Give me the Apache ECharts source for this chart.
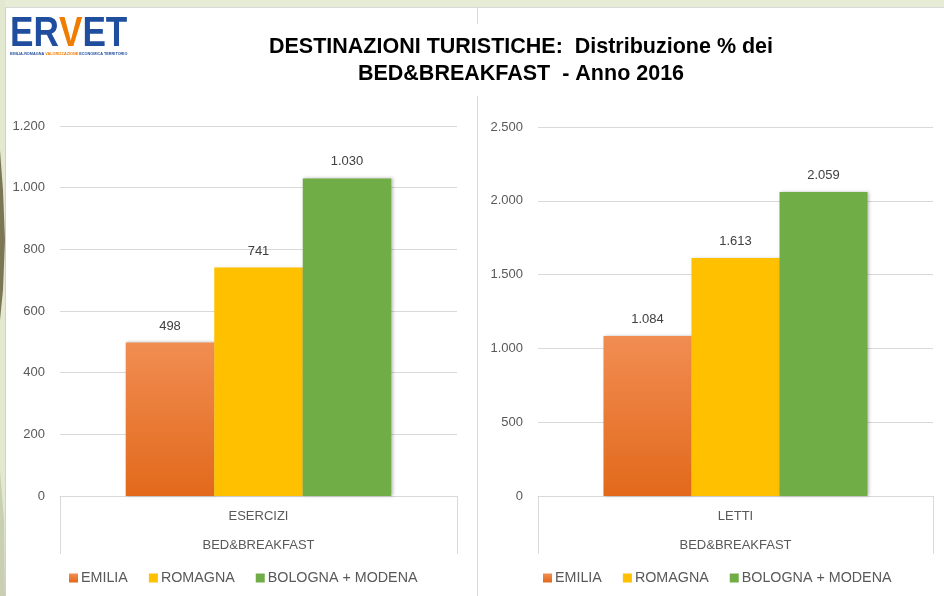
<!DOCTYPE html>
<html>
<head>
<meta charset="utf-8">
<script src="https://cdn.jsdelivr.net/npm/echarts@6/dist/echarts.min.js"></script>
<style>
html,body{margin:0;padding:0;background:#fff;}
#main{width:944px;height:596px;}
</style>
</head>
<body>
<div id="main"></div>
<script>
// ---- data ----
var seriesNames = ['EMILIA', 'ROMAGNA', 'BOLOGNA + MODENA'];
var leftCategories = ['ESERCIZI'];
var rightCategories = ['LETTI'];
var groupLabel = 'BED&BREAKFAST';
var eserciziValues = [498, 741, 1030];
var lettiValues = [1084, 1613, 2059];
var leftTicks = { max: 1200, interval: 200 };
var rightTicks = { max: 2500, interval: 500 };
var titleLines = ['DESTINAZIONI TURISTICHE:  Distribuzione % dei', 'BED&BREAKFAST  - Anno 2016'];

// ---- styling ----
var FONT = 'Liberation Sans, Arial, sans-serif';
var GRAY = '#595959';
var colors = [
  { type: 'linear', x: 0, y: 0, x2: 0, y2: 1, colorStops: [{ offset: 0, color: '#f18d52' }, { offset: 1, color: '#e2691b' }] },
  '#ffc000',
  '#70ad47'
];

function fmt(v) {
  var s = String(Math.round(v));
  return s.replace(/\B(?=(\d{3})+(?!\d))/g, '.');
}

function makeX(idx, cats) {
  return {
    type: 'category', gridIndex: idx, data: cats,
    axisLine: { show: true, lineStyle: { color: '#d9d9d9', width: 1 } },
    axisTick: { show: true, alignWithLabel: false, length: 58, lineStyle: { color: '#d9d9d9' } },
    axisLabel: {
      margin: 6, interval: 0,
      formatter: function (v) { return '{a|' + v + '}\n{a|' + groupLabel + '}'; },
      rich: { a: { fontFamily: FONT, fontSize: 13, color: GRAY, lineHeight: 29 } }
    },
    splitLine: { show: false }
  };
}
function makeY(idx, t) {
  return {
    type: 'value', gridIndex: idx, min: 0, max: t.max, interval: t.interval,
    axisLine: { show: false }, axisTick: { show: false },
    axisLabel: { margin: 15, fontFamily: FONT, fontSize: 13, color: GRAY, formatter: fmt },
    splitLine: { lineStyle: { color: '#d9d9d9', width: 1 } }
  };
}
function makeSeries(gridIdx, values, barW) {
  return seriesNames.map(function (n, i) {
    return {
      name: n, type: 'bar', xAxisIndex: gridIdx, yAxisIndex: gridIdx,
      data: [values[i]], barWidth: barW, barGap: '0%',
      itemStyle: { color: colors[i], shadowColor: 'rgba(0,0,0,0.25)', shadowBlur: 3, shadowOffsetX: 1.5 },
      label: { show: true, position: 'top', distance: 10, fontFamily: FONT, fontSize: 13, color: '#404040', formatter: function (p) { return fmt(p.value); } }
    };
  });
}
function makeLegend(left) {
  return {
    left: left, top: 566, orient: 'horizontal', icon: 'rect', itemWidth: 9, itemHeight: 9, itemGap: 21,
    data: seriesNames,
    textStyle: { fontFamily: FONT, fontSize: 14.3, color: GRAY, padding: [0, 0, 0, -2] }
  };
}

var chart = echarts.init(document.getElementById('main'), null, { renderer: 'canvas' });
chart.setOption({
  backgroundColor: '#ffffff',
  animation: false,
  title: {
    text: titleLines.join('\n'), left: 516, top: 29, textAlign: 'center',
    textStyle: { fontFamily: FONT, fontWeight: 'bold', fontSize: 21.5, color: '#000', lineHeight: 27 }
  },
  grid: [
    { left: 60, top: 126, width: 397, height: 370 },
    { left: 538, top: 127, width: 395, height: 369 }
  ],
  xAxis: [makeX(0, leftCategories), makeX(1, rightCategories)],
  yAxis: [makeY(0, leftTicks), makeY(1, rightTicks)],
  legend: [makeLegend(64), makeLegend(538)],
  series: makeSeries(0, eserciziValues, 88.5).concat(makeSeries(1, lettiValues, 88)),
  graphic: [
    { type: 'rect', shape: { x: 0, y: 0, width: 944, height: 7 }, style: { fill: '#e6ecd6' }, silent: true },
    { type: 'rect', shape: { x: 0, y: 0, width: 5, height: 596 }, style: { fill: '#e2e9d0' }, silent: true },
    { type: 'polygon', shape: { points: [[0, 150], [3, 190], [5, 240], [3, 290], [0, 320]] }, style: { fill: '#7c7656' }, silent: true },
    { type: 'polygon', shape: { points: [[0, 470], [4, 520], [5, 596], [0, 596]] }, style: { fill: '#c9cfb3' }, silent: true },
    { type: 'line', shape: { x1: 5.5, y1: 7, x2: 5.5, y2: 596 }, style: { stroke: '#d0d0d0', lineWidth: 1 }, silent: true },
    { type: 'line', shape: { x1: 5, y1: 7.5, x2: 944, y2: 7.5 }, style: { stroke: '#d8d8d8', lineWidth: 1 }, silent: true },
    { type: 'line', shape: { x1: 477.5, y1: 7, x2: 477.5, y2: 24 }, style: { stroke: '#d9d9d9', lineWidth: 1 }, silent: true },
    { type: 'line', shape: { x1: 477.5, y1: 96, x2: 477.5, y2: 596 }, style: { stroke: '#d9d9d9', lineWidth: 1 }, silent: true },
    {
      type: 'text', x: 10, y: 14, silent: true, scaleX: 0.8, scaleY: 0.95,
      style: {
        text: '{b|ER}{o|V}{b|ET}',
        rich: {
          b: { fontFamily: FONT, fontWeight: 'bold', fontSize: 44, fill: '#1f4e9e' },
          o: { fontFamily: FONT, fontWeight: 'bold', fontSize: 44, fill: '#f07d00' }
        }
      }
    },
    {
      type: 'text', x: 10, y: 52, silent: true,
      style: {
        text: '{b|EMILIA-ROMAGNA }{o|VALORIZZAZIONE}{b| ECONOMICA TERRITORIO}',
        rich: {
          b: { fontFamily: FONT, fontWeight: 'bold', fontSize: 3.8, fill: '#1f4e9e' },
          o: { fontFamily: FONT, fontWeight: 'bold', fontSize: 3.8, fill: '#f07d00' }
        }
      }
    }
  ]
});
</script>
</body>
</html>
